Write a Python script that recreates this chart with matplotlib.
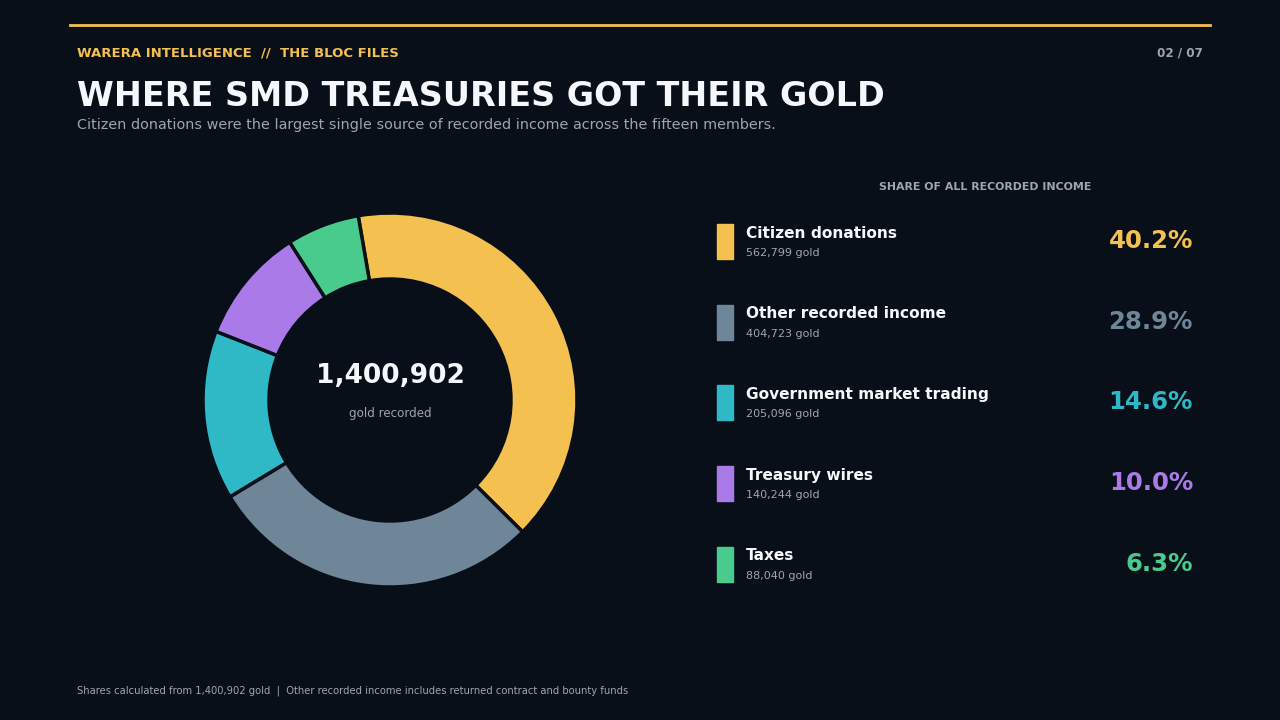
import matplotlib
matplotlib.use('Agg')
import matplotlib.pyplot as plt
from matplotlib.patches import Rectangle

# Data
categories = ['Citizen donations', 'Other recorded income', 'Government market trading',
              'Treasury wires', 'Taxes']
gold = [562799, 404723, 205096, 140244, 88040]
shares = [40.2, 28.9, 14.6, 10.0, 6.3]
colors = ['#f4c04f', '#6f8699', '#2fb8c6', '#a97ae8', '#48cb8c']
total = 1400902

BG = '#080f18'
WHITE = '#f5f7fa'
MUTED = '#9aa6b2'
GOLD = '#f4c04f'

plt.rcParams['font.family'] = ['DejaVu Sans']

W, H = 1280, 720
fig = plt.figure(figsize=(12.8, 7.2), dpi=100, facecolor=BG)

def fx(px):
    return px / W

def fy(py):
    return 1 - py / H

# Top accent line
fig.add_artist(plt.Line2D([fx(70), fx(1210)], [fy(25), fy(25)], color=GOLD, lw=2,
                          transform=fig.transFigure))

# Header texts
fig.text(fx(77), fy(53), 'WARERA INTELLIGENCE  //  THE BLOC FILES', color=GOLD,
         fontsize=9.55, fontweight='bold', va='center', ha='left')
fig.text(fx(1203), fy(53), '02 / 07', color=MUTED, fontsize=8.6, fontweight='bold',
         va='center', ha='right')
fig.text(fx(77), fy(97), 'WHERE SMD TREASURIES GOT THEIR GOLD', color=WHITE,
         fontsize=24, fontweight='bold', va='center', ha='left')
fig.text(fx(77), fy(125), 'Citizen donations were the largest single source of recorded income '
         'across the fifteen members.', color=MUTED, fontsize=10.4, va='center', ha='left')

# Donut chart
cx, cy, r = 390, 400, 187
half = 200
ax = fig.add_axes([fx(cx - half), fy(cy + half), 2 * half / W, 2 * half / H])
ax.set_facecolor(BG)
ax.pie(gold, colors=colors, startangle=99.8, counterclock=False, radius=1,
       wedgeprops=dict(width=0.353, edgecolor=BG, linewidth=2.5))
lim = half / r
ax.set_xlim(-lim, lim)
ax.set_ylim(-lim, lim)
ax.set_aspect('equal')
ax.axis('off')
ax.text(0, 0.13, f'{total:,}', color=WHITE, fontsize=19, fontweight='bold',
        ha='center', va='center')
ax.text(0, -0.07, 'gold recorded', color=MUTED, fontsize=8.6, ha='center', va='center')

# Legend panel
fig.text(fx(985), fy(187), 'SHARE OF ALL RECORDED INCOME', color=MUTED, fontsize=7.95,
         fontweight='bold', ha='center', va='center')
row0, step = 224, 80.7
for i, (cat, g, s, c) in enumerate(zip(categories, gold, shares, colors)):
    top = row0 + i * step
    fig.add_artist(Rectangle((fx(717), fy(top + 35)), 16 / W, 35 / H, color=c,
                             transform=fig.transFigure))
    fig.text(fx(746), fy(top + 9), cat, color=WHITE, fontsize=11.05, fontweight='bold',
             ha='left', va='center')
    fig.text(fx(746), fy(top + 29), f'{g:,} gold', color=MUTED, fontsize=8.05,
             ha='left', va='center')
    fig.text(fx(1193), fy(top + 17), f'{s:.1f}%', color=c, fontsize=17.6, fontweight='bold',
             ha='right', va='center')

# Footer
fig.text(fx(77), fy(691), 'Shares calculated from 1,400,902 gold  |  Other recorded income '
         'includes returned contract and bounty funds', color=MUTED, fontsize=7.2,
         ha='left', va='center')

fig.savefig('out.png', dpi=100, facecolor=BG)
